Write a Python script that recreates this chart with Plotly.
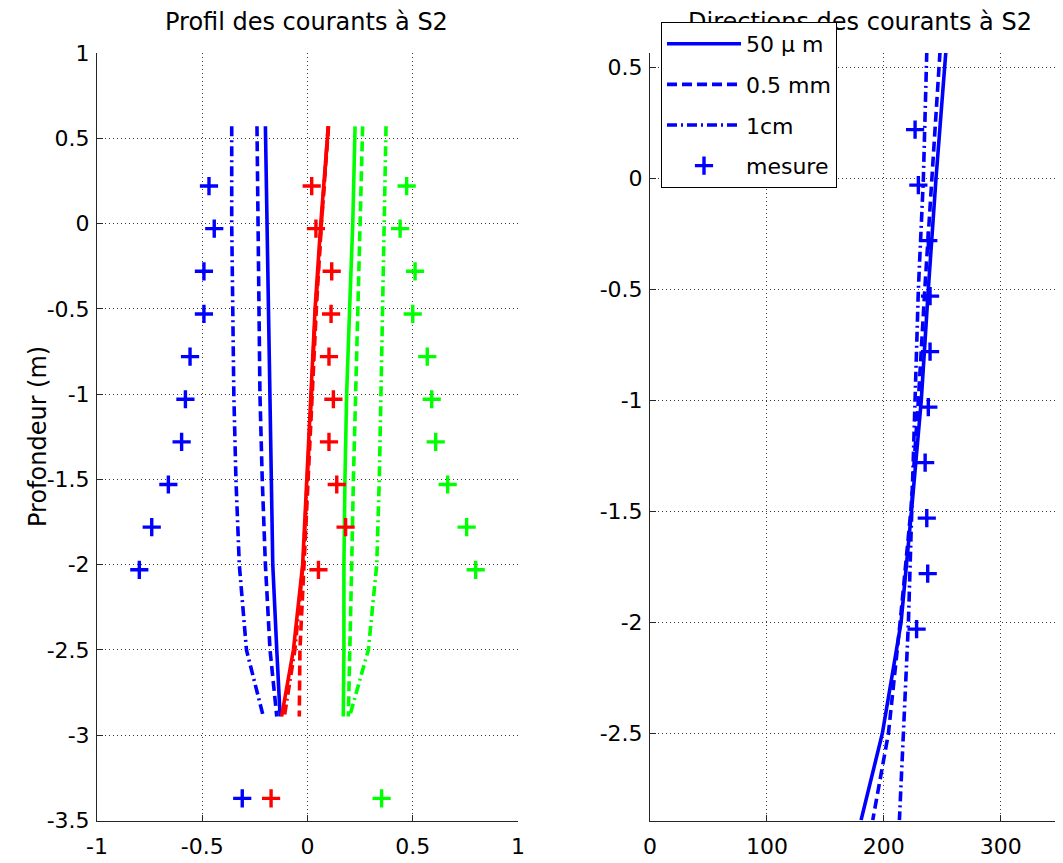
import plotly.graph_objects as go

# ---------------- data ----------------
depth_model = [0.57, 0.0, -0.5, -1.0, -1.5, -2.0, -2.5, -2.89]
depth_meas = [0.22, -0.03, -0.28, -0.53, -0.78, -1.03, -1.28, -1.53, -1.78, -2.03, -3.37]

# Profile (left) - model
blue_50um = [-0.20, -0.193, -0.186, -0.18, -0.173, -0.165, -0.146, -0.13]
blue_05mm = [-0.24, -0.235, -0.23, -0.226, -0.215, -0.20, -0.178, -0.146]
blue_1cm = [-0.36, -0.36, -0.355, -0.35, -0.34, -0.324, -0.29, -0.21]
red_50um = [0.099, 0.063, 0.036, 0.017, -0.003, -0.023, -0.067, -0.123]
red_05mm = [0.10, 0.066, 0.042, 0.022, 0.002, -0.02, -0.036, -0.039]
red_1cm = [0.098, 0.064, 0.038, 0.019, 0.0, -0.021, -0.06, -0.11]
green_50um = [0.226, 0.215, 0.20, 0.186, 0.178, 0.173, 0.173, 0.17]
green_05mm = [0.262, 0.249, 0.237, 0.226, 0.218, 0.21, 0.199, 0.194]
green_1cm = [0.373, 0.363, 0.356, 0.349, 0.341, 0.329, 0.289, 0.20]

# Profile (left) - measurements
blue_meas = [-0.468, -0.443, -0.492, -0.492, -0.558, -0.58, -0.598, -0.661, -0.74, -0.799, -0.31]
red_meas = [0.02, 0.04, 0.115, 0.112, 0.102, 0.123, 0.102, 0.139, 0.181, 0.052, -0.173]
green_meas = [0.471, 0.44, 0.511, 0.5, 0.569, 0.59, 0.609, 0.666, 0.756, 0.799, 0.352]

# Directions (right)
dir_50um = [253, 244.6, 238, 232, 223.6, 214.7, 198.7, 180.5]
dir_05mm = [248, 241, 235, 229.5, 223, 213.9, 203.9, 190.5]
dir_1cm = [236.7, 233.8, 229.5, 226.7, 223.5, 221, 216.7, 213.3]
dir_depth_meas = depth_meas[:10]
dir_meas = [226.7, 229.5, 238, 239.5, 239.5, 238, 235.3, 236.7, 237.5, 228]

legend_names = ["50 \u03bc m", "0.5 mm", "1cm", "mesure"]
x_left_ticks = [-1, -0.5, 0, 0.5, 1]
y_left_ticks = [1, 0.5, 0, -0.5, -1, -1.5, -2, -2.5, -3, -3.5]
x_right_ticks = [0, 100, 200, 300]
y_right_ticks = [0.5, 0, -0.5, -1, -1.5, -2, -2.5]

BLUE = "#0000ff"
RED = "#ff0000"
GREEN = "#00ff00"
LW = 3.6
DASH = "10px,5px"
DASHDOT = "10px,4px,2px,4px"
FONT = "DejaVu Sans, Liberation Sans, Arial, sans-serif"

# page body has an 8px margin: the figure is sized so that it fills the window
OFF = 8
W, H = 1063 - OFF, 863 - OFF

fig = go.Figure()

def line(x, y, color, dash, xa, ya, name=None, show=False, group=None):
    fig.add_trace(go.Scatter(
        x=x, y=y, mode="lines", xaxis=xa, yaxis=ya,
        line=dict(color=color, width=LW, dash=dash),
        name=name, showlegend=show, legendgroup=group, hoverinfo="skip"))

def marks(x, y, color, xa, ya, name=None, show=False, group=None):
    fig.add_trace(go.Scatter(
        x=x, y=y, mode="markers", xaxis=xa, yaxis=ya,
        marker=dict(symbol="cross-thin", size=13, color=color,
                    line=dict(color=color, width=3.4)),
        name=name, showlegend=show, legendgroup=group, hoverinfo="skip"))

# left plot
for color, vals in [(BLUE, (blue_50um, blue_05mm, blue_1cm)),
                    (RED, (red_50um, red_05mm, red_1cm)),
                    (GREEN, (green_50um, green_05mm, green_1cm))]:
    line(vals[0], depth_model, color, "solid", "x", "y")
    line(vals[1], depth_model, color, DASH, "x", "y")
    line(vals[2], depth_model, color, DASHDOT, "x", "y")
marks(blue_meas, depth_meas, BLUE, "x", "y")
marks(red_meas, depth_meas, RED, "x", "y")
marks(green_meas, depth_meas, GREEN, "x", "y")

# right plot
line(dir_50um, depth_model, BLUE, "solid", "x2", "y2", legend_names[0], True, "g1")
line(dir_05mm, depth_model, BLUE, DASH, "x2", "y2", legend_names[1], True, "g2")
line(dir_1cm, depth_model, BLUE, DASHDOT, "x2", "y2", legend_names[2], True, "g3")
marks(dir_meas, dir_depth_meas, BLUE, "x2", "y2", legend_names[3], True, "g4")

def px_x(p):
    return (p - OFF) / W

def px_y(p):
    return 1 - (p - OFF) / H

axis_common = dict(
    showline=True, linecolor="#262626", linewidth=1,
    ticks="inside", ticklen=6, tickcolor="#262626",
    showgrid=True, gridcolor="#3a3a3a", griddash="1px,3px", gridwidth=1,
    zeroline=False, tickfont=dict(family=FONT, size=22, color="black"),
    mirror=False, automargin=False,
)

y_dom = [px_y(820.5), px_y(53)]

fig.update_layout(
    width=W, height=H,
    margin=dict(l=0, r=0, t=0, b=0, autoexpand=False),
    paper_bgcolor="white", plot_bgcolor="white",
    font=dict(family=FONT, color="black"),
    xaxis=dict(axis_common, domain=[px_x(97), px_x(518)], range=[-1, 1],
               tickvals=x_left_ticks, ticktext=[str(v) for v in x_left_ticks],
               anchor="y", ticklabelstandoff=6),
    yaxis=dict(axis_common, domain=y_dom, range=[-3.5, 1],
               tickvals=y_left_ticks, ticktext=[str(v) for v in y_left_ticks],
               anchor="x", ticklabelstandoff=2),
    xaxis2=dict(axis_common, domain=[px_x(650), 1.0], range=[0, 353.2],
                tickvals=x_right_ticks, ticktext=[str(v) for v in x_right_ticks],
                anchor="y2", ticklabelstandoff=6),
    yaxis2=dict(axis_common, domain=y_dom, range=[-2.892, 0.565],
                tickvals=y_right_ticks, ticktext=[str(v) for v in y_right_ticks],
                anchor="x2", ticklabelstandoff=2),
    title=dict(text="Directions des courants \u00e0 S2", x=px_x(860), y=px_y(22),
               xref="paper", yref="paper", xanchor="center", yanchor="middle",
               font=dict(family=FONT, size=24, color="black")),
    showlegend=True,
    legend=dict(x=px_x(661), y=px_y(22), xanchor="left", yanchor="top",
                bgcolor="white", bordercolor="black", borderwidth=1,
                font=dict(family=FONT, size=22, color="black"),
                tracegroupgap=9, itemwidth=74),
    annotations=[
        dict(text="Profil des courants \u00e0 S2", x=px_x(306), y=px_y(22),
             xref="paper", yref="paper", showarrow=False,
             xanchor="center", yanchor="middle",
             font=dict(family=FONT, size=24, color="black")),
        dict(text="Profondeur (m)", x=px_x(38), y=px_y(437), textangle=-90,
             xref="paper", yref="paper", showarrow=False,
             xanchor="center", yanchor="middle",
             font=dict(family=FONT, size=24, color="black")),
    ],
)

# as in the reference, the legend box sits on top of the right-hand title
raise_legend = (
    "var gd=document.getElementById('{plot_id}');"
    "function up(){var l=gd.querySelector('.infolayer .legend');"
    "if(l&&l.parentNode.lastChild!==l){l.parentNode.appendChild(l);}}"
    "up();gd.on('plotly_afterplot',up);"
)

fig.write_html("out.html", post_script=raise_legend)
